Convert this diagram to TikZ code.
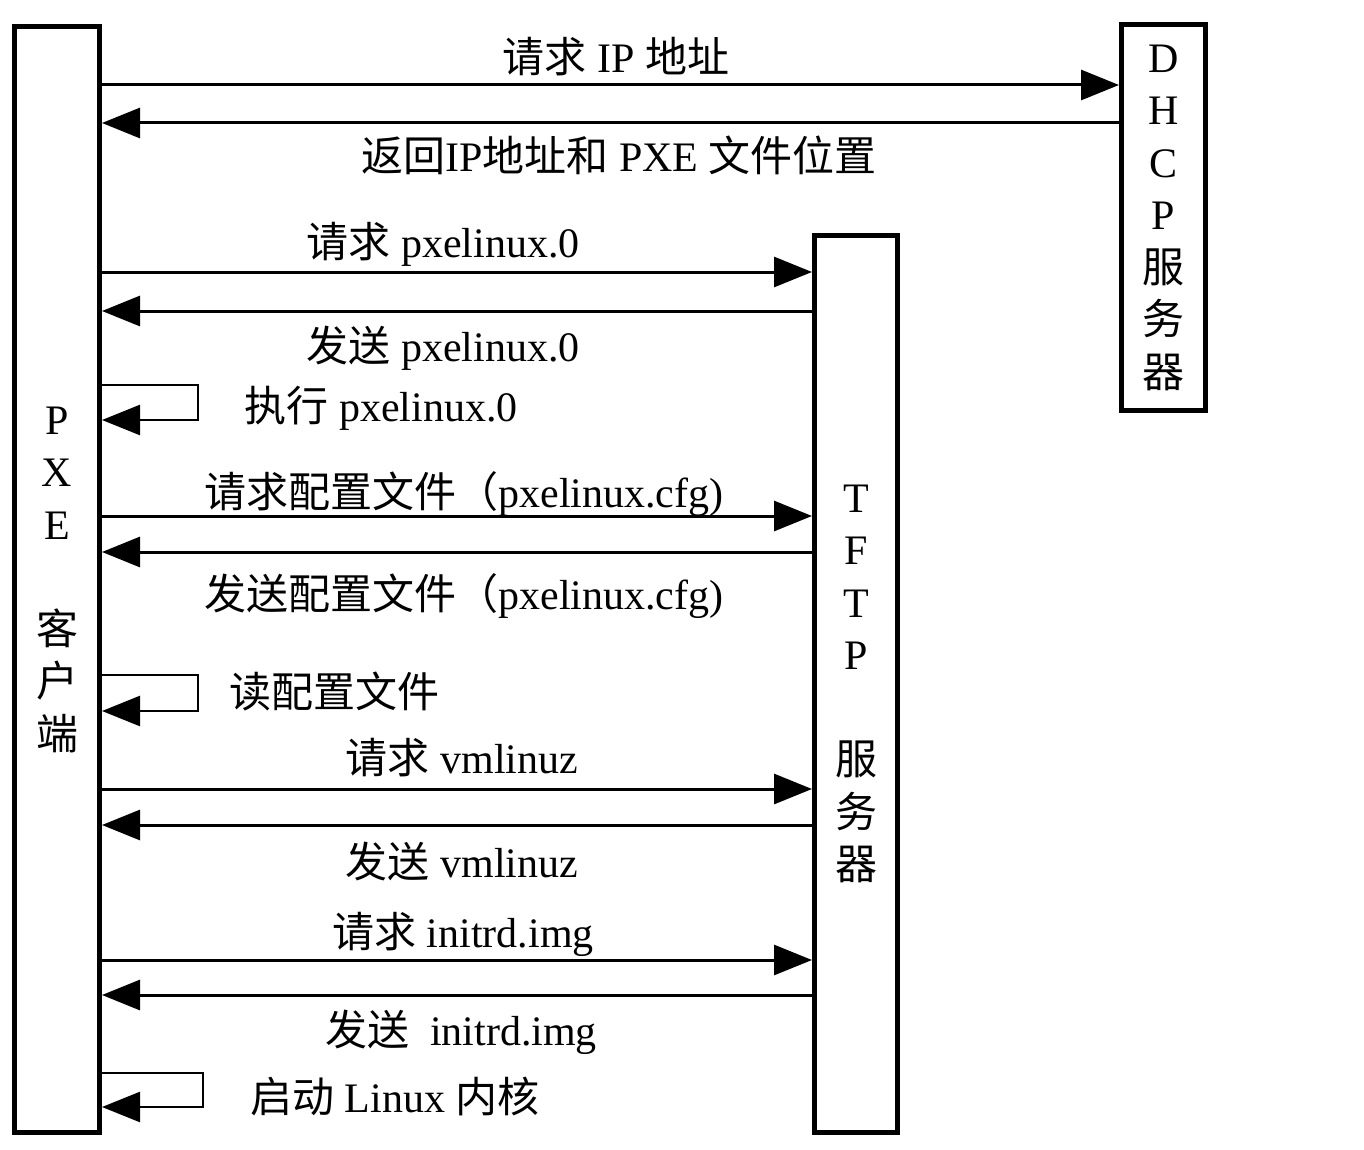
\documentclass[tikz,border=0pt]{standalone}
\usepackage{fontspec}
\setmainfont{Liberation Serif}
\newfontfamily\cjk{Noto Sans CJK SC}
\usetikzlibrary{arrows.meta}
\newcommand\zh[1]{{\cjk #1}}
\begin{document}
\begin{tikzpicture}[x=1pt,y=-1pt,
  box/.style={draw, line width=5pt, inner sep=0pt, align=center,
    font=\fontsize{42}{52.5}\selectfont},
  msg/.style={line width=3pt, -{Triangle[length=38pt,width=30pt]}},
  selfmsg/.style={line width=2.5pt, -{Triangle[length=38pt,width=30pt]}},
  lbl/.style={font=\fontsize{42}{50}\selectfont, anchor=base, inner sep=0pt}]
\useasboundingbox[fill=white] (0,0) rectangle (1364,1150);

\node[box, minimum width=85pt, minimum height=1106pt] (pxe) at (57,579.5)
  {P\\X\\E\\[52.5pt]\zh{客}\\\zh{户}\\\zh{端}};
\node[box, minimum width=84pt, minimum height=386pt] (dhcp) at (1163.5,217.5)
  {D\\H\\C\\P\\\zh{服}\\\zh{务}\\\zh{器}};
\node[box, minimum width=83pt, minimum height=897pt] (tftp) at (856,684)
  {T\\F\\T\\P\\[52.5pt]\zh{服}\\\zh{务}\\\zh{器}};

% DHCP exchange
\draw[msg] (pxe.east |- 0,85) -- (dhcp.west |- 0,85);
\draw[msg] (dhcp.west |- 0,123) -- (pxe.east |- 0,123);
\node[lbl] (l1) at (616,73) {\zh{请求} IP \zh{地址}};
\node[lbl] (l2) at (619,172) {\zh{返回}IP\zh{地址和} PXE \zh{文件位置}};

% pxelinux.0
\draw[msg] (pxe.east |- 0,272) -- (tftp.west |- 0,272);
\draw[msg] (tftp.west |- 0,311) -- (pxe.east |- 0,311);
\node[lbl] (l3) at (443,258) {\zh{请求} pxelinux.0};
\node[lbl] (l4) at (443,361) {\zh{发送} pxelinux.0};

\draw[selfmsg] (pxe.east |- 0,385) -| (198,420) -- (pxe.east |- 0,420);
\node[lbl] (l5) at (381,421) {\zh{执行} pxelinux.0};

% config file
\draw[msg] (pxe.east |- 0,516) -- (tftp.west |- 0,516);
\draw[msg] (tftp.west |- 0,552) -- (pxe.east |- 0,552);
\node[lbl] (l6) at (464,507) {\zh{请求配置文件（}pxelinux.cfg)};
\node[lbl] (l7) at (464,609) {\zh{发送配置文件（}pxelinux.cfg)};

\draw[selfmsg] (pxe.east |- 0,675) -| (198,711) -- (pxe.east |- 0,711);
\node[lbl] (l8) at (334,707) {\zh{读配置文件}};

% vmlinuz
\draw[msg] (pxe.east |- 0,789) -- (tftp.west |- 0,789);
\draw[msg] (tftp.west |- 0,825) -- (pxe.east |- 0,825);
\node[lbl] (l9) at (462,773) {\zh{请求} vmlinuz};
\node[lbl] (l10) at (462,877) {\zh{发送} vmlinuz};

% initrd
\draw[msg] (pxe.east |- 0,960) -- (tftp.west |- 0,960);
\draw[msg] (tftp.west |- 0,995) -- (pxe.east |- 0,995);
\node[lbl] (l11) at (463,947) {\zh{请求} initrd.img};
\node[lbl] (l12) at (461,1045) {\zh{发送}\ \ initrd.img};

\draw[selfmsg] (pxe.east |- 0,1073) -| (203,1107) -- (pxe.east |- 0,1107);
\node[lbl] (l13) at (395,1112) {\zh{启动} Linux \zh{内核}};
\end{tikzpicture}
\end{document}
